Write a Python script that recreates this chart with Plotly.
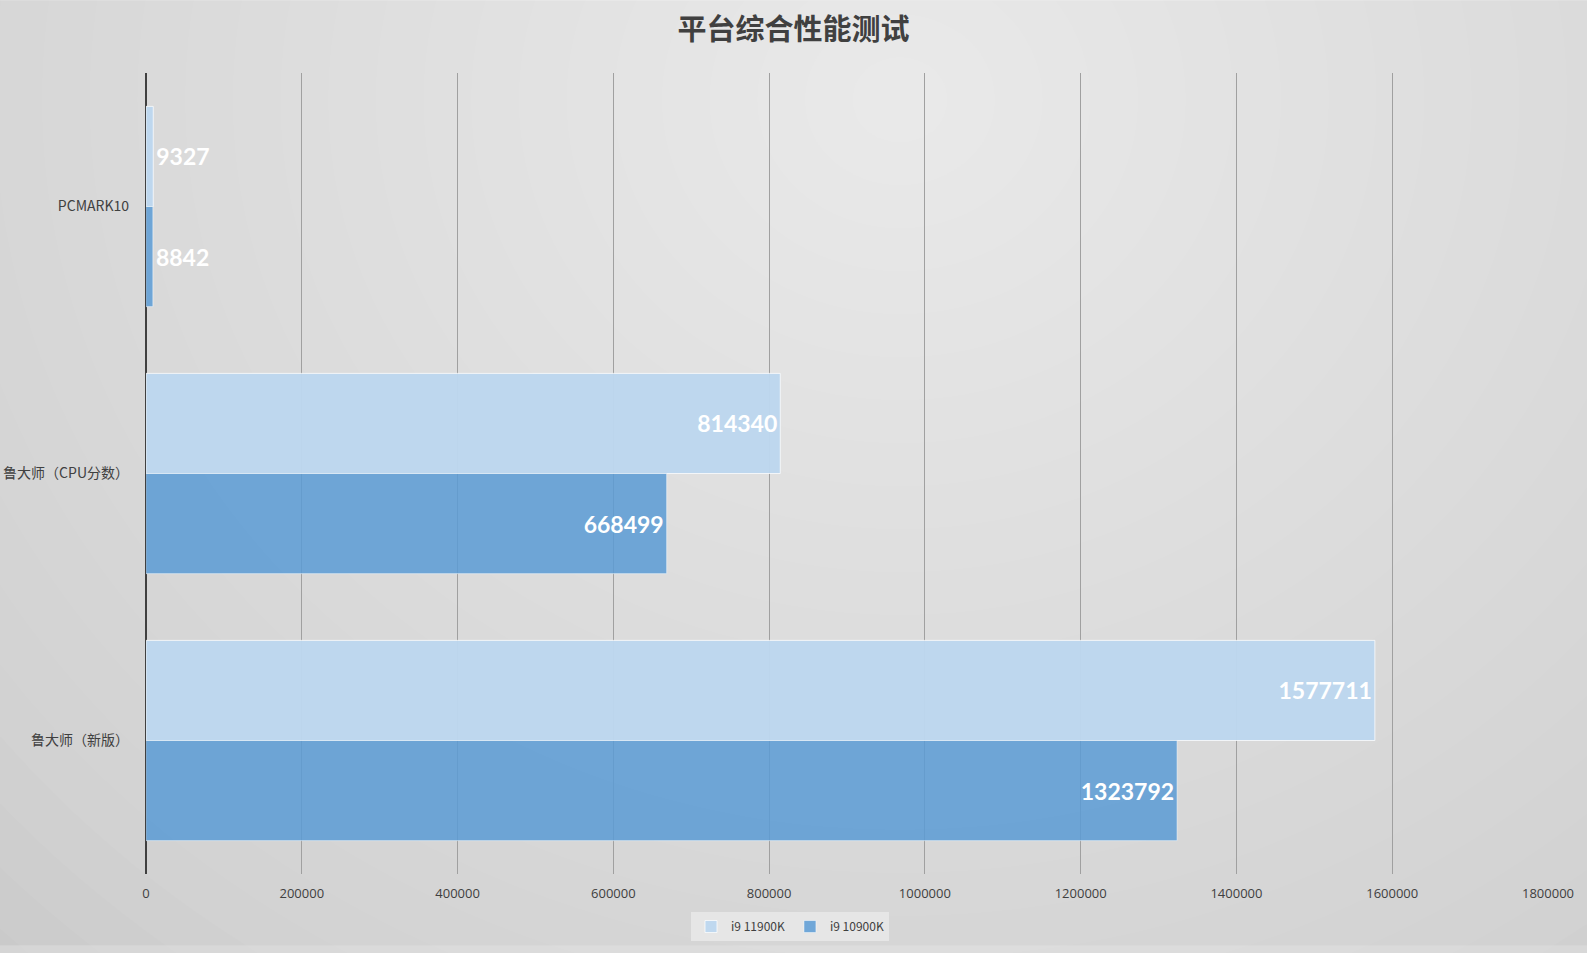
import plotly.graph_objects as go

# ---- data ----
categories = ["PCMARK10", "鲁大师（CPU分数）", "鲁大师（新版）"]
series_names = ["i9 11900K", "i9 10900K"]
i9_11900k = [9327, 814340, 1577711]
i9_10900k = [8842, 668499, 1323792]
x_ticks = [0, 200000, 400000, 600000, 800000, 1000000, 1200000, 1400000, 1600000, 1800000]

W, H = 1587, 953
M = dict(l=146, r=39, t=73, b=72)
pw = W - M["l"] - M["r"]
ph = H - M["t"] - M["b"]


def px_to_paper(x, y):
    return (x - M["l"]) / pw, 1 - (y - M["t"]) / ph


label_font = dict(family="Lato, Open Sans, sans-serif", size=23, color="white", weight="bold")

fig = go.Figure()
fig.add_trace(go.Bar(
    y=categories, x=i9_11900k, name=series_names[0], orientation="h",
    marker=dict(color="rgba(189,215,238,0.97)", line=dict(color="rgba(255,255,255,0.75)", width=1)),
    text=[str(v) for v in i9_11900k], textposition="auto", insidetextanchor="end",
    textfont=label_font, cliponaxis=False,
))
fig.add_trace(go.Bar(
    y=categories, x=i9_10900k, name=series_names[1], orientation="h",
    marker=dict(color="rgba(91,155,213,0.85)", line=dict(color="rgba(255,255,255,0.5)", width=1)),
    text=[str(v) for v in i9_10900k], textposition="auto", insidetextanchor="end",
    textfont=label_font, cliponaxis=False,
))

# soft radial background built from stacked translucent ellipses
shapes = [dict(type="rect", xref="paper", yref="paper",
               x0=px_to_paper(0, 0)[0], x1=px_to_paper(W, 0)[0],
               y0=px_to_paper(0, H)[1], y1=px_to_paper(0, 0)[1],
               fillcolor="#c4c4c4", line=dict(width=0), layer="below")]
cx, cy = 900, 100
n = 30
for i in range(n):
    r = 1300 * (1 - i / n)
    x0, y0 = px_to_paper(cx - r * 1.1, cy + r)
    x1, y1 = px_to_paper(cx + r * 1.1, cy - r)
    shapes.append(dict(type="circle", xref="paper", yref="paper",
                       x0=x0, x1=x1, y0=y0, y1=y1,
                       fillcolor="rgba(255,255,255,0.045)", line=dict(width=0), layer="below"))

fig.update_layout(
    width=W, height=H,
    margin=M,
    paper_bgcolor="#d2d2d2",
    plot_bgcolor="rgba(0,0,0,0)",
    shapes=shapes,
    barmode="group",
    bargap=0.25,
    bargroupgap=0,
    title=dict(text="<b>平台综合性能测试</b>", x=0.5, xref="container", y=1 - 30 / H, yanchor="middle",
               xanchor="center", font=dict(family="Noto Sans CJK SC", size=29, color="#404040")),
    font=dict(family="Noto Sans CJK SC, Open Sans, sans-serif", color="#404040"),
    legend=dict(orientation="h", x=(790 - M["l"]) / pw, xanchor="center",
                y=-(934 - (H - M["b"])) / ph, yanchor="middle",
                bgcolor="rgba(235,235,235,0.75)", font=dict(size=12, color="#404040"),
                traceorder="normal", itemwidth=30),
    showlegend=True,
)
fig.update_xaxes(
    range=[0, 1800000], tickvals=x_ticks, ticktext=[str(v) for v in x_ticks],
    showgrid=True, gridcolor="#a0a0a0", gridwidth=1,
    zeroline=True, zerolinecolor="#404040", zerolinewidth=2,
    tickfont=dict(family="Open Sans, sans-serif", size=13, color="#404040"),
    ticklabelstandoff=10, showline=False, automargin=False,
)
fig.update_yaxes(
    autorange="reversed", showgrid=False, zeroline=False, showline=False,
    tickfont=dict(family="Noto Sans CJK SC, sans-serif", size=14, color="#404040"),
    ticklabelstandoff=16, automargin=False,
)

fig.write_html(
    "out.html",
    config={"displayModeBar": False},
    post_script="document.body.style.margin='0';document.body.style.background='#c8c8c8';",
)
